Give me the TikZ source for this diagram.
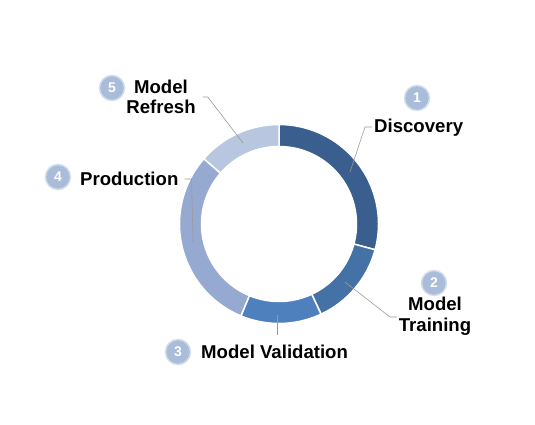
\documentclass[tikz,border=0pt]{standalone}
\usepackage{fontspec}
\setmainfont{Liberation Sans}
\definecolor{discovery}{HTML}{3A5F8E}
\definecolor{training}{HTML}{4572A6}
\definecolor{validation}{HTML}{4E80BD}
\definecolor{production}{HTML}{95A9D1}
\definecolor{refresh}{HTML}{B9C6E0}
\definecolor{numblue}{HTML}{A9BCD9}
\definecolor{numrim}{HTML}{D3DDEC}
\definecolor{leadgray}{HTML}{9A9A9A}
\begin{document}
\begin{tikzpicture}[x=1pt,y=1pt,
  lbl/.style={font=\fontsize{18.6}{20.5}\selectfont\bfseries, align=center, inner sep=0pt},
  num/.style={circle, fill=numblue, draw=numrim, line width=1.5pt, minimum size=25pt, inner sep=0pt, text=white, font=\fontsize{14}{14}\selectfont\bfseries},
  leader/.style={color=leadgray, line width=0.6pt}]
\useasboundingbox (0,0) rectangle (535,424);
% donut ring
\foreach \a/\b/\c in {-15/90/discovery, -65/-15/training, -112.5/-65/validation, 139/247.5/production, 90/139/refresh}
  \filldraw[fill=\c, draw=white, line width=1.5pt, shift={(279,200)}]
    (\a:99.5) arc (\a:\b:99.5) -- (\b:77.5) arc (\b:\a:77.5) -- cycle;
% labels
\node[lbl, anchor=west] (disc) at (374,296) {Discovery};
\node[lbl] (train) at (435,108) {Model\\Training};
\node[lbl, anchor=west] (valid) at (201,72) {Model Validation};
\node[lbl, anchor=west] (prod) at (80,245) {Production};
\node[lbl] (refr) at (161,327) {Model\\Refresh};
% numbers
\node[num] (n1) at (417,326) {1};
\node[num] (n2) at (434,141) {2};
\node[num] (n3) at (178,72) {3};
\node[num] (n4) at (58,247) {4};
\node[num] (n5) at (112,336) {5};
% leader lines
\coordinate (din) at (350,252);
\coordinate (tin) at (345,142);
\coordinate (vin) at (277,109);
\coordinate (pin) at (193,182);
\coordinate (rin) at (243,281);
\draw[leader] (din) -- ([xshift=-9pt,yshift=1pt]disc.west) -- ([xshift=-2pt,yshift=1pt]disc.west);
\draw[leader] (tin) -- (390,107) -- (397,107);
\draw[leader] (vin) -- ([xshift=76pt,yshift=10pt]valid.north west);
\draw[leader] (pin) -- ([xshift=13pt]prod.east) -- ([xshift=6pt]prod.east);
\draw[leader] (rin) -- ([xshift=12pt]refr.east) -- ([xshift=7pt]refr.east);
\end{tikzpicture}
\end{document}
